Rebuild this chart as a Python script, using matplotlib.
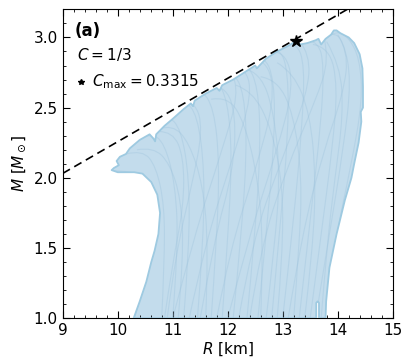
import numpy as np
import matplotlib.pyplot as plt
from matplotlib.path import Path
from matplotlib.patches import PathPatch, Polygon

# envelope of all M-R curves (R [km], M [Msun]), traced clockwise
env_r = [10.29, 10.40, 10.52, 10.61, 10.67, 10.74, 10.77, 10.72, 10.61, 10.45,
         10.30, 10.00, 9.89, 9.93, 10.02, 9.98, 10.04, 10.15, 10.22, 10.28,
         10.40, 10.58, 10.65, 10.68, 10.70, 10.85, 11.00, 11.20, 11.33, 11.37,
         11.40, 11.60, 11.80, 11.85, 11.90, 12.10, 12.30, 12.50, 12.53, 12.70,
         12.90, 13.10, 13.25, 13.32, 13.45, 13.60, 13.65, 13.70, 13.78, 13.88,
         13.93, 13.98, 14.05, 14.20, 14.30, 14.40, 14.45, 14.46, 14.46, 14.42,
         14.43, 14.38, 14.30, 14.25, 14.13, 13.98, 13.85, 13.79, 13.78,
         13.66, 13.66, 13.635, 13.61, 13.61]
env_m = [1.00, 1.12, 1.26, 1.40, 1.48, 1.60, 1.75, 1.88, 1.97, 2.03,
         2.04, 2.04, 2.055, 2.07, 2.09, 2.12, 2.15, 2.17, 2.21, 2.23,
         2.27, 2.31, 2.28, 2.26, 2.31, 2.37, 2.42, 2.49, 2.53, 2.51,
         2.55, 2.60, 2.64, 2.62, 2.66, 2.70, 2.75, 2.80, 2.78, 2.85,
         2.90, 2.94, 2.975, 2.95, 2.96, 2.98, 2.99, 2.95, 2.99, 3.02,
         3.05, 3.05, 3.03, 3.00, 2.96, 2.88, 2.78, 2.65, 2.50, 2.47,
         2.40, 2.25, 2.10, 2.00, 1.84, 1.60, 1.36, 1.12, 1.00,
         1.00, 1.11, 1.12, 1.11, 1.00]

# a sample of individual M-R curves
mr_curves = [
    [(10.30, 1.00), (10.50, 1.25), (10.70, 1.55), (10.72, 1.80), (10.55, 1.98), (10.25, 2.05), (9.92, 2.05)],
    [(10.80, 1.00), (10.85, 1.40), (10.85, 1.80), (10.70, 2.08), (10.45, 2.20), (10.15, 2.17)],
    [(10.85, 1.00), (11.00, 1.40), (11.20, 1.80), (11.20, 2.15), (11.00, 2.33), (10.75, 2.33)],
    [(10.90, 1.00), (11.05, 1.45), (11.35, 1.95), (11.55, 2.35), (11.40, 2.55), (11.15, 2.55)],
    [(11.00, 1.00), (11.10, 1.50), (11.05, 1.95), (10.85, 2.25), (10.60, 2.32), (10.40, 2.28)],
    [(11.00, 1.00), (11.40, 1.60), (11.90, 2.20), (12.20, 2.60), (12.05, 2.78), (11.80, 2.76)],
    [(11.10, 1.00), (11.20, 1.45), (11.15, 1.85), (10.95, 2.10), (10.65, 2.22), (10.35, 2.20)],
    [(11.20, 1.00), (11.30, 1.50), (11.30, 2.00), (11.15, 2.35), (10.90, 2.45), (10.65, 2.40)],
    [(11.30, 1.00), (11.60, 1.55), (12.10, 2.15), (12.45, 2.60), (12.30, 2.80), (12.05, 2.80)],
    [(11.45, 1.00), (11.55, 1.50), (11.58, 2.05), (11.45, 2.45), (11.20, 2.56), (10.95, 2.52)],
    [(11.50, 1.00), (11.75, 1.55), (12.10, 2.05), (12.15, 2.45), (11.95, 2.66), (11.65, 2.66)],
    [(11.60, 1.00), (11.65, 1.50), (11.55, 1.95), (11.30, 2.25), (11.00, 2.38), (10.75, 2.35)],
    [(11.70, 1.00), (11.80, 1.55), (11.85, 2.10), (11.75, 2.50), (11.50, 2.64), (11.25, 2.60)],
    [(11.80, 1.00), (12.05, 1.50), (12.50, 2.05), (12.85, 2.55), (12.75, 2.82), (12.50, 2.85)],
    [(11.90, 1.00), (12.00, 1.55), (12.08, 2.15), (12.00, 2.55), (11.80, 2.70), (11.55, 2.68)],
    [(12.00, 1.00), (12.40, 1.60), (12.90, 2.20), (13.20, 2.65), (13.05, 2.90), (12.80, 2.90)],
    [(12.10, 1.00), (12.25, 1.60), (12.35, 2.20), (12.30, 2.60), (12.10, 2.76), (11.85, 2.74)],
    [(12.20, 1.00), (12.45, 1.55), (12.95, 2.10), (13.45, 2.60), (13.50, 2.88), (13.30, 2.98)],
    [(12.35, 1.00), (12.50, 1.60), (12.60, 2.25), (12.55, 2.65), (12.35, 2.82), (12.10, 2.80)],
    [(12.40, 1.00), (12.60, 1.50), (13.05, 2.05), (13.60, 2.55), (13.85, 2.85), (13.75, 3.00)],
    [(12.55, 1.00), (12.70, 1.60), (12.85, 2.25), (12.85, 2.70), (12.65, 2.88), (12.40, 2.86)],
    [(12.60, 1.00), (12.65, 1.50), (12.55, 2.00), (12.30, 2.40), (12.00, 2.58), (11.70, 2.56)],
    [(12.70, 1.00), (12.85, 1.50), (12.95, 2.00), (12.85, 2.45), (12.60, 2.75), (12.30, 2.78)],
    [(12.80, 1.00), (12.95, 1.65), (13.10, 2.30), (13.10, 2.75), (12.95, 2.93), (12.70, 2.92)],
    [(12.90, 1.00), (13.00, 1.45), (13.00, 1.95), (12.80, 2.35), (12.45, 2.62), (12.15, 2.66)],
    [(13.00, 1.00), (13.20, 1.70), (13.35, 2.35), (13.40, 2.80), (13.25, 2.97), (13.00, 2.96)],
    [(13.10, 1.00), (13.35, 1.60), (13.75, 2.20), (14.10, 2.60), (14.20, 2.90), (14.00, 3.02)],
    [(13.20, 1.00), (13.30, 1.50), (13.35, 2.00), (13.20, 2.45), (12.90, 2.70), (12.60, 2.72)],
    [(13.30, 1.00), (13.50, 1.70), (13.70, 2.40), (13.75, 2.80), (13.65, 2.97), (13.45, 2.98)],
    [(13.40, 1.00), (13.55, 1.50), (13.60, 2.00), (13.50, 2.45), (13.20, 2.75), (12.90, 2.82)],
    [(13.50, 1.00), (13.70, 1.60), (13.90, 2.20), (14.00, 2.65), (13.85, 2.93), (13.55, 2.95)],
    [(13.60, 1.00), (13.85, 1.60), (14.10, 2.20), (14.25, 2.70), (14.10, 2.98), (13.90, 3.04), (13.70, 3.00)],
    [(13.70, 1.00), (13.80, 1.50), (13.95, 2.00), (14.10, 2.45), (14.05, 2.80), (13.80, 2.97)],
    [(13.78, 1.00), (13.95, 1.55), (14.25, 2.10), (14.45, 2.55), (14.40, 2.85), (14.20, 3.00), (13.98, 3.05), (13.80, 3.00)],
]

# compactness line C = 1/3, M = C R c^2 / G
compactness = 1.0 / 3.0
gm_sun_km = 1.4766
line_r = np.array([9.0, 15.0])

star_r = 13.25
star_m = 2.975


def smooth_path(points):
    # quadratic bezier segments through the midpoints of the given points
    pts = np.asarray(points)
    verts = [pts[0]]
    codes = [Path.MOVETO]
    for i in range(1, len(pts) - 1):
        end = pts[i + 1] if i == len(pts) - 2 else (pts[i] + pts[i + 1]) / 2
        verts += [pts[i], end]
        codes += [Path.CURVE3, Path.CURVE3]
    return Path(verts, codes)


fig = plt.figure(figsize=(4.03, 3.59), dpi=100)
ax = fig.add_axes([0.1556, 0.1134, 0.8188, 0.8606])

env = Polygon(np.column_stack([env_r, env_m]), closed=True,
              facecolor='#c3dcec', edgecolor='none', zorder=1)
ax.add_patch(env)

for curve in mr_curves:
    p = PathPatch(smooth_path(curve), facecolor='none', edgecolor='#9cc2dc',
                  lw=0.8, alpha=0.35, zorder=2)
    ax.add_patch(p)
    p.set_clip_path(env)

edge = Polygon(np.column_stack([env_r, env_m]), closed=True,
               facecolor='none', edgecolor='#9ecae1', lw=1.3, zorder=3,
               joinstyle='round')
ax.add_patch(edge)

ax.plot(line_r, compactness * line_r / gm_sun_km, color='black', ls='--',
        lw=1.2, dashes=(5, 3), zorder=4)
ax.plot([star_r], [star_m], marker='*', color='black', ms=9, zorder=5)

ax.text(0.037, 0.96, '(a)', transform=ax.transAxes, fontsize=12,
        fontweight='bold', va='top', ha='left')
ax.text(0.043, 0.855, r'$C = 1/3$', transform=ax.transAxes, fontsize=11,
        va='center', ha='left')
ax.plot([0.054], [0.766], marker='*', color='black', ms=4,
        transform=ax.transAxes)
ax.text(0.088, 0.766, r'$C_{\rm max} = 0.3315$', transform=ax.transAxes,
        fontsize=11, va='center', ha='left')

ax.set_xlim(9, 15)
ax.set_ylim(1.0, 3.2)
ax.set_xticks(np.arange(9, 16, 1))
ax.set_yticks([1.0, 1.5, 2.0, 2.5, 3.0])
ax.set_xticks(np.arange(9, 15.01, 0.2), minor=True)
ax.set_yticks(np.arange(1.0, 3.201, 0.1), minor=True)
ax.tick_params(which='both', direction='in', top=True, right=True,
               labelsize=11)
ax.tick_params(which='major', length=5)
ax.tick_params(which='minor', length=2.5)
ax.set_xlabel(r'$R$ [km]', fontsize=11, labelpad=2)
ax.set_ylabel(r'$M$ [$M_\odot$]', fontsize=11, labelpad=4)

fig.savefig('out.png', dpi=100)
